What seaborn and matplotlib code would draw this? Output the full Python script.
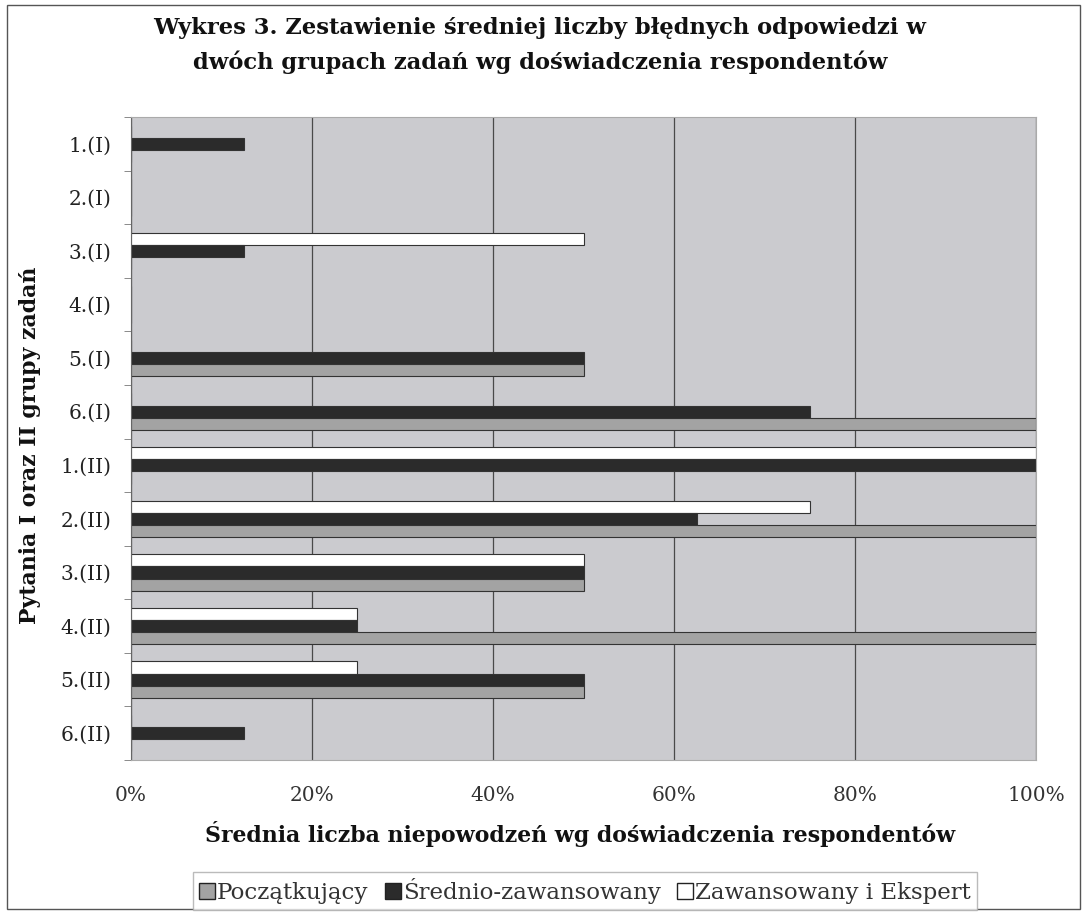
import numpy as np
import pandas as pd
import seaborn as sns
import matplotlib.pyplot as plt
from matplotlib.patches import Patch, Rectangle

questions = ['1.(I)', '2.(I)', '3.(I)', '4.(I)', '5.(I)', '6.(I)',
             '1.(II)', '2.(II)', '3.(II)', '4.(II)', '5.(II)', '6.(II)']
poczatkujacy = [0, 0, 0, 0, 50, 100, 0, 100, 50, 100, 50, 0]
srednio = [12.5, 0, 12.5, 0, 50, 75, 100, 62.5, 50, 25, 50, 12.5]
zaawansowany = [0, 0, 50, 0, 0, 0, 100, 75, 50, 25, 25, 0]
groups = ['Początkujący', 'Średnio-zawansowany', 'Zawansowany i Ekspert']
colors = ['#a3a3a3', '#2b2b2b', '#ffffff']
xticks = [0, 20, 40, 60, 80, 100]

df = pd.DataFrame({
    'question': questions * 3,
    'group': [groups[0]] * 12 + [groups[1]] * 12 + [groups[2]] * 12,
    'value': poczatkujacy + srednio + zaawansowany,
})

sns.set_style('white')
plt.rcParams['font.family'] = ['DejaVu Serif']

fig = plt.figure(figsize=(10.86, 9.13), dpi=100)
ax = fig.add_axes([131 / 1086, 1 - 760 / 913, 905 / 1086, 643 / 913])
ax.set_facecolor('#cbcbcf')

# excel draws the first series at the bottom of each group
order = groups[::-1]
sns.barplot(data=df, x='value', y='question', hue='group', hue_order=order,
            palette=dict(zip(groups, colors)), orient='h', width=0.68,
            edgecolor='#333333', linewidth=0.8, legend=False, ax=ax)

ax.set_xlim(0, 100)
ax.set_ylim(len(questions) - 0.5, -0.5)
ax.set_xticks(xticks)
ax.set_xticklabels([f'{t}%' for t in xticks], fontsize=14.5, color='#333333')
ax.set_yticks(range(len(questions)))
ax.set_yticklabels(questions, fontsize=14.5, color='#222222')
ax.set_yticks(np.arange(-0.5, len(questions), 1), minor=True)
ax.tick_params(axis='y', which='major', length=0, pad=14)
ax.tick_params(axis='y', which='minor', length=5, color='#777777', direction='out', left=True)
ax.tick_params(axis='x', length=0, pad=19)
ax.grid(axis='x', color='#4a4a4a', linewidth=0.9)
ax.set_axisbelow(True)
for side in ['top', 'right', 'bottom']:
    ax.spines[side].set_color('#aaaaaa')
ax.spines['left'].set_color('#666666')
ax.set_xlabel('')
ax.set_ylabel('')

fig.text(540 / 1086, 1 - 28 / 913,
         'Wykres 3. Zestawienie średniej liczby błędnych odpowiedzi w',
         ha='center', va='center', fontsize=16.3, fontweight='bold', color='#111111')
fig.text(540 / 1086, 1 - 62 / 913,
         'dwóch grupach zadań wg doświadczenia respondentów',
         ha='center', va='center', fontsize=16.3, fontweight='bold', color='#111111')
fig.text(580 / 1086, 1 - 834 / 913,
         'Średnia liczba niepowodzeń wg doświadczenia respondentów',
         ha='center', va='center', fontsize=15.8, fontweight='bold', color='#111111')
fig.text(30 / 1086, 1 - 445 / 913, 'Pytania I oraz II grupy zadań',
         ha='center', va='center', rotation=90, fontsize=15.8, fontweight='bold',
         color='#111111')

handles = [Patch(facecolor=c, edgecolor='#222222', linewidth=1) for c in colors]
leg = fig.legend(handles, groups, loc='center', ncol=3,
                 bbox_to_anchor=(585 / 1086, 1 - 891 / 913),
                 fontsize=16.5, frameon=True, fancybox=False,
                 edgecolor='#aaaaaa', handlelength=0.7, handleheight=0.7,
                 handletextpad=0.1, columnspacing=0.7, borderpad=0.25,
                 borderaxespad=0)
leg._legend_box.sep = 4
for t in leg.get_texts():
    t.set_color('#333333')

fig.patches.append(Rectangle((7 / 1086, 4 / 913), 1073 / 1086, 904 / 913,
                             transform=fig.transFigure, fill=False,
                             edgecolor='#555555', linewidth=1))

fig.savefig('out.png', dpi=100)
